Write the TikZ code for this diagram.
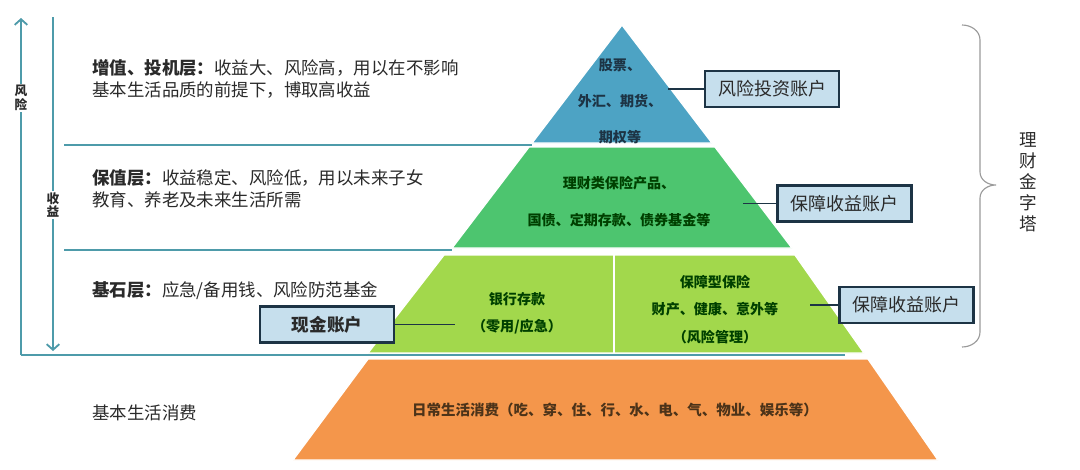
\documentclass[tikz,border=0pt]{standalone}
\usepackage{fontspec}
\setmainfont{Noto Sans CJK SC}
\usepackage{tikz}
\usetikzlibrary{arrows.meta}
\definecolor{tealline}{HTML}{4E9BAA}
\definecolor{topblue}{HTML}{4DA3C4}
\definecolor{midgreen}{HTML}{4DC56F}
\definecolor{lightlime}{HTML}{A2D84C}
\definecolor{orangelayer}{HTML}{F4964B}
\definecolor{boxfill}{HTML}{C6DFED}
\definecolor{boxline}{HTML}{1D3445}
\definecolor{ink}{HTML}{2A2A2A}
\definecolor{bracegray}{HTML}{9A9A9A}

\begin{document}
\begin{tikzpicture}[x=0.025cm,y=-0.025cm,
  frame/.style={tealline,line width=1.3pt},
  tip/.style={-{Straight Barb[length=4pt,width=9pt]}},
  note/.style={anchor=west,align=left,inner sep=0pt,text=ink,font=\fontsize{12.4}{15.6}\selectfont},
  side/.style={fill=white,inner sep=1pt,align=center,text=ink,font=\fontsize{9}{9.5}\selectfont\bfseries},
  acct/.style={draw=boxline,line width=1.6pt,fill=boxfill,minimum width=3.35cm,minimum height=0.9cm,inner sep=0pt,text=ink,font=\fontsize{12.8}{14}\selectfont},
  layer/.style={draw=white,line width=1pt},
  layertext/.style={align=center,inner sep=0pt,font=\bfseries},
  link/.style={boxline,line width=1.2pt}]
  \useasboundingbox (0,0) rectangle (1080,469);
  \fill[white] (0,0) rectangle (1080,469);
  % pyramid layers
  \fill[layer,fill=topblue] (622,25) -- (712,143) -- (532,143) -- cycle;
  \fill[layer,fill=midgreen] (529,147) -- (715,147) -- (792,248) -- (452,248) -- cycle;
  \filldraw[layer,fill=lightlime] (444,255) -- (795,255) -- (864,353) -- (368,353) -- cycle;
  \draw[white,line width=1pt] (614,255) -- (614,353);
  \fill[layer,fill=orangelayer] (368,359) -- (868,359) -- (938,460) -- (293,460) -- cycle;
  % frame and arrows
  \draw[frame] (64,145) -- (532,145);
  \draw[frame] (64,250) -- (452,250);
  \draw[frame] (21,355) -- (845,355);
  \draw[frame,tip] (21,355) -- (21,18);
  \draw[frame,tip] (53,17) -- (53,351);
  \node[side] (risklbl) at (21,98) {风\\险};
  \node[side] (gainlbl) at (53,205) {收\\益};
  % left notes
  \node[note] (growth) at (92,79) {{\bfseries 增值、投机层：}收益大、风险高，用以在不影响\\基本生活品质的前提下，博取高收益};
  \node[note] (keep) at (92,189) {{\bfseries 保值层：}收益稳定、风险低，用以未来子女\\教育、养老及未来生活所需};
  \node[note] (base) at (92,291) {{\bfseries 基石层：}应急/备用钱、风险防范基金};
  \node[note] (living) at (92,413) {基本生活消费};
  % layer texts
  \node[layertext,text=boxline,font=\fontsize{10}{25.6}\selectfont\bfseries] (stocks) at (620,101) {股票、\\外汇、期货、\\期权等};
  \node[layertext,text=green!25!black,font=\fontsize{10}{26.3}\selectfont\bfseries] (bonds) at (619,201.5) {理财类保险产品、\\国债、定期存款、债券基金等};
  \node[layertext,text=green!25!black,font=\fontsize{10}{19.2}\selectfont\bfseries] (deposit) at (517,313.5) {银行存款\\（零用/应急）};
  \node[layertext,text=green!25!black,font=\fontsize{10}{19.5}\selectfont\bfseries] (insure) at (715,309.5) {保障型保险\\财产、健康、意外等\\（风险管理）};
  \node[layertext,text=brown!40!black,font=\fontsize{10.3}{12}\selectfont\bfseries] (daily) at (615,410) {日常生活消费（吃、穿、住、行、水、电、气、物业、娱乐等）};
  % accounts
  \node[acct] (risk) at (772,89) {风险投资账户};
  \node[acct] (safeA) at (844.5,203.5) {保障收益账户};
  \node[acct] (safeB) at (906.5,305) {保障收益账户};
  \node[acct,font=\fontsize{12.5}{14}\selectfont\bfseries] (cash) at (327,324.5) {现金账户};
  \coordinate (riskend) at (668,89);
  \coordinate (safeAend) at (743,203.5);
  \coordinate (safeBend) at (810,305);
  \coordinate (cashend) at (455,324.5);
  \draw[link] (riskend) -- (risk);
  \draw[link] (safeAend) -- (safeA);
  \draw[link] (safeBend) -- (safeB);
  \draw[link] (cash) -- (cashend);
  % brace
  \draw[bracegray,line width=0.8pt] (962,25) to[out=0,in=90] (980,40) -- (980,172) to[out=-90,in=180] (996,185) to[out=180,in=90] (980,198) -- (980,332) to[out=-90,in=0] (962,347);
  \node[align=center,inner sep=0pt,text=ink,font=\fontsize{12.5}{15}\selectfont] (title) at (1028,182) {理\\财\\金\\字\\塔};
\end{tikzpicture}
\end{document}
